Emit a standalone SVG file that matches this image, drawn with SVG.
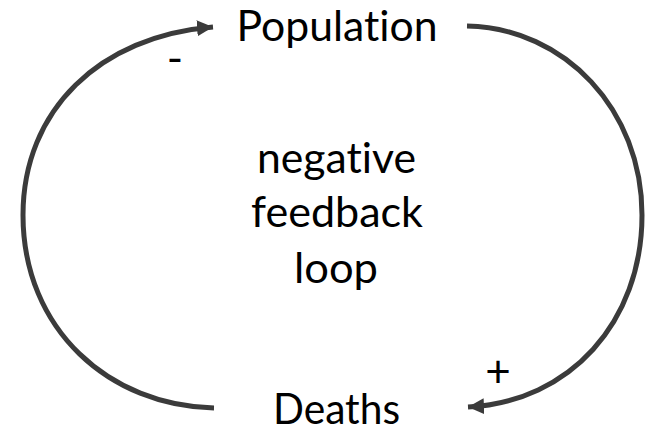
<svg xmlns="http://www.w3.org/2000/svg" width="646" height="429" viewBox="0 0 646 429">
<defs>
<style>
.lbl{font-family:Lato,"Liberation Sans",sans-serif;font-size:42px;fill:#000;text-anchor:middle;font-variant-ligatures:none;font-feature-settings:"liga" 0}
.sgn{font-family:Lato,"Liberation Sans",sans-serif;font-size:44px;fill:#000;text-anchor:middle}
.edge{fill:none;stroke:#3b3b3b;stroke-width:5;marker-end:url(#ah)}
</style>
<marker id="ah" viewBox="0 0 16 16" refX="16" refY="8" markerWidth="16" markerHeight="16" markerUnits="userSpaceOnUse" orient="auto">
<path d="M0,0 L16,8 L0,16 z" fill="#3b3b3b"/>
</marker>
</defs>
<rect width="646" height="429" fill="#fff"/>
<g id="connectors">
<path class="edge" d="M214,408 C110,406 23,330 23,215 C23,110 100,36 213,27"/>
<path class="edge" d="M467,26 C565,28 642,110 642,215 C642,322 570,402 468,407"/>
</g>
<g id="population"><text class="lbl" x="337" y="41" textLength="201" lengthAdjust="spacingAndGlyphs">Population</text></g>
<g id="deaths"><text class="lbl" x="336.5" y="424" textLength="127" lengthAdjust="spacingAndGlyphs">Deaths</text></g>
<g id="loop-label">
<text class="lbl" x="336.5" y="173" textLength="159" lengthAdjust="spacingAndGlyphs">negative</text>
<text class="lbl" x="337" y="227" textLength="172" lengthAdjust="spacingAndGlyphs">feedback</text>
<text class="lbl" x="336" y="283" textLength="84" lengthAdjust="spacingAndGlyphs">loop</text>
</g>
<g id="signs">
<text class="sgn" x="175" y="74">-</text>
<text class="sgn" x="498" y="387">+</text>
</g>
</svg>
